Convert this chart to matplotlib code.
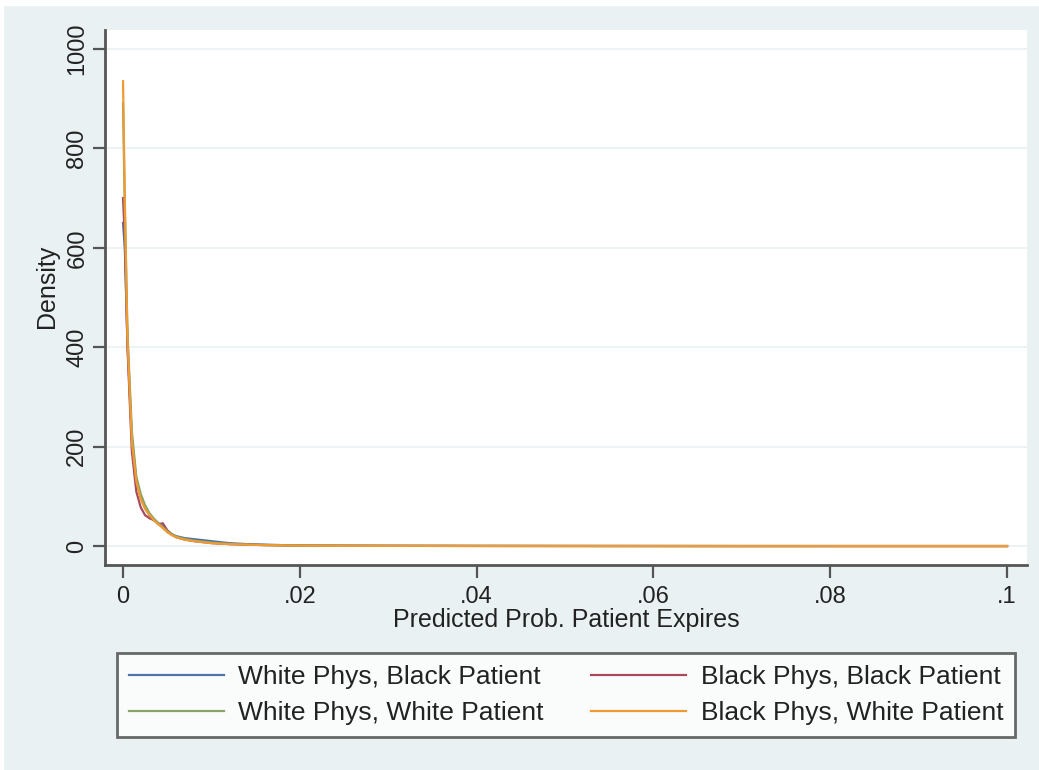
import matplotlib
matplotlib.use("Agg")
import matplotlib.pyplot as plt
from matplotlib.patches import Rectangle

plt.rcParams['font.family'] = ['Liberation Sans', 'DejaVu Sans']

# ---- data ----
x_vals = [0, 0.0002, 0.0005, 0.001, 0.0015, 0.002, 0.0025, 0.003, 0.0035, 0.004,
          0.0045, 0.005, 0.0055, 0.006, 0.007, 0.008, 0.009, 0.01, 0.011, 0.012,
          0.014, 0.016, 0.018, 0.02, 0.025, 0.03, 0.04, 0.05, 0.06, 0.07, 0.08,
          0.09, 0.1]
white_phys_black_pat = [650, 600, 410, 215, 132, 98, 76, 62, 54, 46, 40, 30, 24, 20,
                        16, 14, 12, 10, 8, 6, 4, 3, 2, 1.3, 0.8, 0.6, 0.4, 0.3, 0.2,
                        0.15, 0.1, 0.1, 0.1]
black_phys_black_pat = [700, 620, 400, 190, 110, 78, 62, 56, 52, 44, 46, 32, 24, 18,
                        13, 10, 8, 6, 5, 4, 3, 2, 1.5, 1, 0.7, 0.5, 0.3, 0.2, 0.15,
                        0.1, 0.1, 0.1, 0.1]
white_phys_white_pat = [890, 680, 430, 230, 140, 105, 82, 66, 55, 46, 38, 30, 24, 19,
                        14, 11, 9, 7, 5.5, 4.5, 3, 2.2, 1.6, 1.1, 0.8, 0.5, 0.3, 0.2,
                        0.15, 0.1, 0.1, 0.1, 0.1]
black_phys_white_pat = [935, 700, 420, 210, 130, 95, 75, 62, 52, 44, 36, 28, 22, 18,
                        13, 10, 8, 6, 5, 4, 3, 2, 1.5, 1, 0.7, 0.5, 0.3, 0.2, 0.15,
                        0.1, 0.1, 0.1, 0.1]
series_labels = ["White Phys, Black Patient", "Black Phys, Black Patient",
                 "White Phys, White Patient", "Black Phys, White Patient"]
x_ticks = [0, 0.02, 0.04, 0.06, 0.08, 0.1]
x_tick_labels = ["0", ".02", ".04", ".06", ".08", ".1"]
y_ticks = [0, 200, 400, 600, 800, 1000]
y_tick_labels = ["0", "200", "400", "600", "800", "1000"]

colors = ["#4f74a3", "#a84a5c", "#86a465", "#ef9a32"]
BG = "#eaf1f3"

W, H = 1039, 770
fig = plt.figure(figsize=(W / 100, H / 100), dpi=100, facecolor=BG)
# white border strip at top/left like the screenshot
fig.patches.append(Rectangle((0, 1 - 5 / H), 1, 5 / H, transform=fig.transFigure,
                             color="white", zorder=-1))
fig.patches.append(Rectangle((0, 0), 3 / W, 1, transform=fig.transFigure,
                             color="white", zorder=-1))

ax = fig.add_axes([105 / W, 1 - 565 / H, (1027 - 105) / W, (565 - 30) / H])
ax.set_facecolor("white")

ys = [white_phys_black_pat, black_phys_black_pat, white_phys_white_pat, black_phys_white_pat]
handles = []
for i in range(4):
    h, = ax.plot(x_vals, ys[i], color=colors[i], lw=1.6, label=series_labels[i],
                 solid_joinstyle="round")
    handles.append(h)

ax.set_xlim(-0.00204, 0.10226)
ax.set_ylim(-38, 1038)
ax.set_xticks(x_ticks)
ax.set_xticklabels(x_tick_labels)
ax.set_yticks(y_ticks)
ax.set_yticklabels(y_tick_labels, rotation=90, va="center")
ax.grid(axis="y", color="#eaf1f3", lw=1.2)
ax.set_axisbelow(True)

for s in ["top", "right"]:
    ax.spines[s].set_visible(False)
for s in ["left", "bottom"]:
    ax.spines[s].set_color("#555555")
    ax.spines[s].set_linewidth(2)

ax.tick_params(axis="both", direction="out", length=9, width=1.6, color="#555555",
               labelsize=17, labelcolor="#222222")
ax.tick_params(axis="y", pad=3)
ax.tick_params(axis="x", pad=6)

ax.set_xlabel("Predicted Prob. Patient Expires", fontsize=18, color="#222222", labelpad=0)
ax.set_ylabel("Density", fontsize=18, color="#222222")
ax.yaxis.set_label_coords(-46 / (1027 - 105), 0.52)

# row-wise legend order like the reference (matplotlib fills column-first)
leg_order = [0, 2, 1, 3]
leg = fig.legend(handles=[handles[i] for i in leg_order],
                 labels=[series_labels[i] for i in leg_order], ncol=2,
                 loc="lower left",
                 bbox_to_anchor=(117 / W, 1 - 737 / H, (1015 - 117) / W, 87 / H),
                 mode="expand", fontsize=19, frameon=True, fancybox=False,
                 handlelength=3.6, handletextpad=0.55, columnspacing=1.5,
                 borderaxespad=0, labelspacing=0.45, borderpad=0.45)
leg.get_frame().set_edgecolor("#444444")
leg.get_frame().set_linewidth(2)
leg.get_frame().set_facecolor("white")
for t in leg.get_texts():
    t.set_color("#222222")

fig.savefig("out.png", dpi=100, facecolor=BG)
